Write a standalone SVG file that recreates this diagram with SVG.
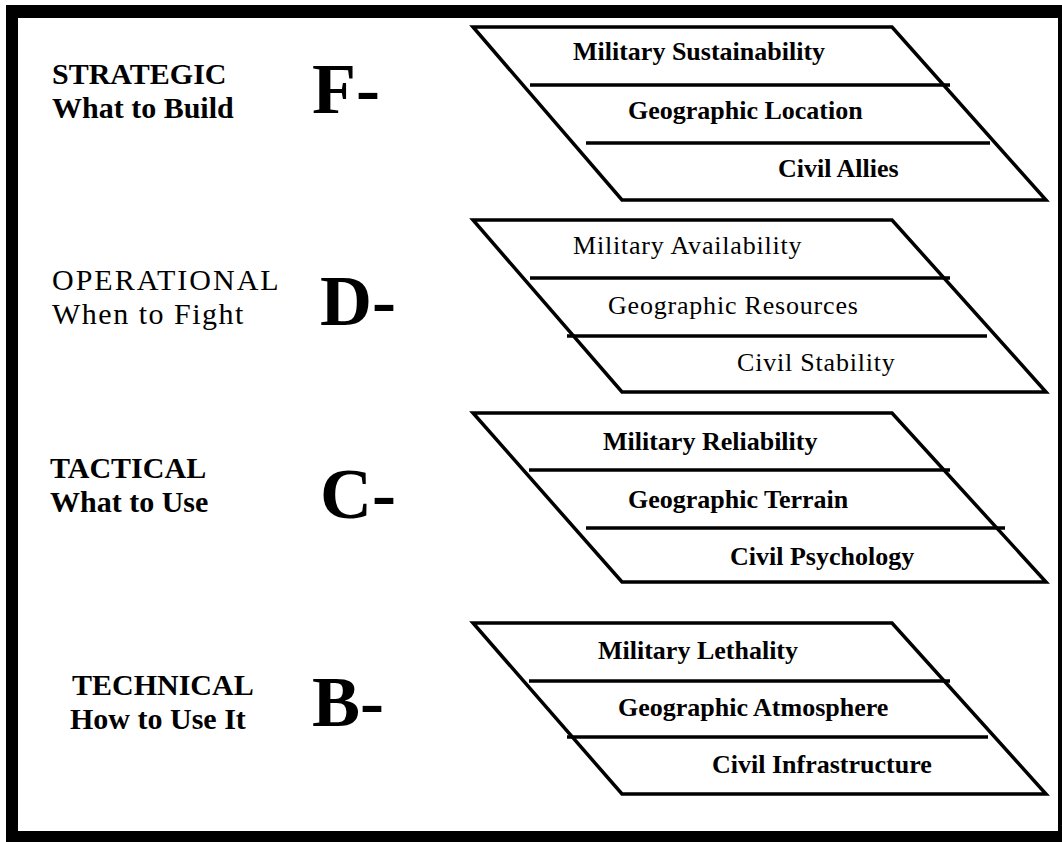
<svg xmlns="http://www.w3.org/2000/svg" width="1062" height="842" viewBox="0 0 1062 842">
  <style>
    .plane { fill: #ffffff; stroke: #000000; stroke-width: 3.5; stroke-linejoin: miter; }
    .rule { stroke: #000000; stroke-width: 3.5; }
    .lbl { font-family: "Liberation Serif", "Times New Roman", serif; fill: #000000; }
    .b { font-weight: bold; }
    .item { font-size: 26px; }
    .thin { font-size: 26px; letter-spacing: 0.8px; }
    .head { font-size: 30px; }
    .wide { letter-spacing: 2px; }
    .grade { font-size: 72px; font-weight: bold; }
  </style>

  <!-- page frame -->
  <rect x="0" y="0" width="1062" height="842" fill="#ffffff"/>
  <path d="M6 5 H1062 V842 H6 Z M18 18 V831 H1058 V18 Z" fill="#000000" fill-rule="evenodd"/>

  <!-- level labels -->
  <g id="label-strategic" class="lbl b">
    <text class="head" x="52" y="84">STRATEGIC</text>
    <text class="head" x="52" y="118">What to Build</text>
    <text class="grade" x="312" y="113">F-</text>
  </g>
  <g id="label-operational" class="lbl">
    <text class="head wide" x="52" y="290">OPERATIONAL</text>
    <text class="head" x="52" y="324" style="letter-spacing:1.5px">When to Fight</text>
    <text class="grade" x="320" y="325">D-</text>
  </g>
  <g id="label-tactical" class="lbl b">
    <text class="head" x="50" y="478">TACTICAL</text>
    <text class="head" x="50" y="512">What to Use</text>
    <text class="grade" x="320" y="518">C-</text>
  </g>
  <g id="label-technical" class="lbl b">
    <text class="head" x="72" y="695">TECHNICAL</text>
    <text class="head" x="70" y="729">How to Use It</text>
    <text class="grade" x="312" y="726">B-</text>
  </g>

  <!-- planes -->
  <g id="plane-strategic">
    <polygon class="plane" points="473,27 892,27 1046,200 622,200"/>
    <line class="rule" x1="530" y1="85" x2="950" y2="85"/>
    <line class="rule" x1="586" y1="143" x2="990" y2="143"/>
    <text class="lbl b item" x="573" y="60">Military Sustainability</text>
    <text class="lbl b item" x="628" y="119">Geographic Location</text>
    <text class="lbl b item" x="778" y="177">Civil Allies</text>
  </g>
  <g id="plane-operational">
    <polygon class="plane" points="473,220 892,220 1046,392 622,392"/>
    <line class="rule" x1="530" y1="278" x2="950" y2="278"/>
    <line class="rule" x1="567" y1="336" x2="987" y2="336"/>
    <text class="lbl thin" x="573" y="254">Military Availability</text>
    <text class="lbl thin" x="608" y="314">Geographic Resources</text>
    <text class="lbl thin" x="737" y="371">Civil Stability</text>
  </g>
  <g id="plane-tactical">
    <polygon class="plane" points="473,413 892,413 1046,582 622,582"/>
    <line class="rule" x1="529" y1="470" x2="950" y2="470"/>
    <line class="rule" x1="586" y1="528" x2="1005" y2="528"/>
    <text class="lbl b item" x="603" y="450">Military Reliability</text>
    <text class="lbl b item" x="628" y="508">Geographic Terrain</text>
    <text class="lbl b item" x="730" y="565">Civil Psychology</text>
  </g>
  <g id="plane-technical">
    <polygon class="plane" points="473,623 892,623 1046,794 622,794"/>
    <line class="rule" x1="529" y1="681" x2="950" y2="681"/>
    <line class="rule" x1="567" y1="737" x2="988" y2="737"/>
    <text class="lbl b item" x="598" y="659">Military Lethality</text>
    <text class="lbl b item" x="618" y="716">Geographic Atmosphere</text>
    <text class="lbl b item" x="712" y="773">Civil Infrastructure</text>
  </g>

  <!-- no connectors between levels -->
  <g id="connectors"/>
</svg>
